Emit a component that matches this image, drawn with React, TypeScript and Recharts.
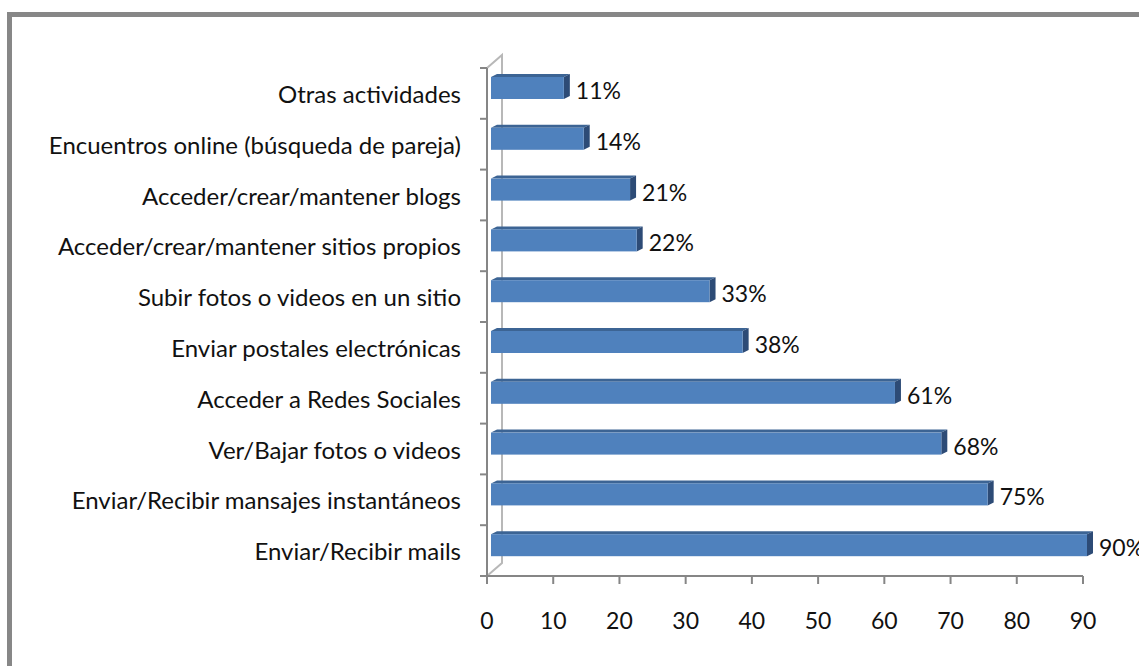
import React from "react";
import { BarChart, Bar, XAxis, YAxis, LabelList, ReferenceLine } from "recharts";

const categories = [
  "Otras actividades",
  "Encuentros online (búsqueda de pareja)",
  "Acceder/crear/mantener blogs",
  "Acceder/crear/mantener sitios propios",
  "Subir fotos o videos en un sitio",
  "Enviar postales electrónicas",
  "Acceder a Redes Sociales",
  "Ver/Bajar fotos o videos",
  "Enviar/Recibir mansajes instantáneos",
  "Enviar/Recibir mails",
];

const values = [11, 14, 21, 22, 33, 38, 61, 68, 75, 90];

const xTicks = [0, 10, 20, 30, 40, 50, 60, 70, 80, 90];

const data = categories.map((name, i) => ({ name, value: values[i] }));

const FONT = "Lato, 'Open Sans', sans-serif";
const AXIS = "#868686";
const FRONT = "#4F81BD";
const TOP = "#3C6494";
const SIDE = "#2D4B76";

// fake 3d bar: front face + top + right side
function Bar3D(props: any) {
  const { x, y, width, height } = props;
  const fx = x + 4;
  const fy = y - 5;
  const dx = 6;
  const dy = 3;
  return (
    <g>
      <polygon
        points={`${fx},${fy} ${fx + dx},${fy - dy} ${fx + width + dx},${fy - dy} ${fx + width},${fy}`}
        fill={TOP}
      />
      <polygon
        points={`${fx + width},${fy} ${fx + width + dx},${fy - dy} ${fx + width + dx},${fy + height - dy} ${fx + width},${fy + height}`}
        fill={SIDE}
      />
      <rect x={fx} y={fy} width={width} height={height} fill={FRONT} />
    </g>
  );
}

function ValueLabel(props: any) {
  const { x, y, width, height, value } = props;
  return (
    <text
      x={x + width + 16}
      y={y + height / 2 - 3}
      dominantBaseline="central"
      fontFamily={FONT}
      fontSize={23}
      fill="#111"
    >
      {value}%
    </text>
  );
}

function CatTick(props: any) {
  const { x, y, payload, index, visibleTicksCount } = props;
  const axisX = x + 26;
  const half = payload.offset ?? 25.4;
  return (
    <g>
      <text
        x={x}
        y={y}
        textAnchor="end"
        dominantBaseline="central"
        fontFamily={FONT}
        fontSize={24}
        fill="#111"
      >
        {payload.value}
      </text>
      <line x1={axisX - 7} x2={axisX} y1={y - half} y2={y - half} stroke={AXIS} strokeWidth={2} />
      {index === visibleTicksCount - 1 && (
        <line x1={axisX - 7} x2={axisX} y1={y + half} y2={y + half} stroke={AXIS} strokeWidth={2} />
      )}
    </g>
  );
}

function NumTick(props: any) {
  const { x, y, payload } = props;
  return (
    <text
      x={x}
      y={y + 36}
      textAnchor="middle"
      dominantBaseline="central"
      fontFamily={FONT}
      fontSize={23}
      fill="#111"
    >
      {payload.value}
    </text>
  );
}

function BackWall(props: any) {
  const { x1, y1, y2 } = props;
  const top = Math.min(y1, y2);
  const bot = Math.max(y1, y2);
  const bx = x1 + 15;
  return (
    <path
      d={`M${x1},${top} L${bx},${top - 13} L${bx},${bot - 13} L${x1},${bot}`}
      fill="none"
      stroke="#B8B8B8"
      strokeWidth={2}
    />
  );
}

export default function App() {
  return (
    <div
      style={{
        position: "fixed",
        left: 0,
        top: 0,
        width: 1139,
        height: 666,
        overflow: "hidden",
        background: "#fff",
      }}
    >
      <div
        style={{
          position: "absolute",
          left: 7,
          top: 12,
          width: 1300,
          height: 800,
          borderLeft: "5px solid #878787",
          borderTop: "5px solid #878787",
        }}
      />
      <div style={{ position: "absolute", left: 0, top: 0 }}>
        <BarChart
          width={1139}
          height={666}
          data={data}
          layout="vertical"
          margin={{ top: 68, right: 56, bottom: 40, left: 0 }}
          barSize={22}
        >
          <ReferenceLine x={0} shape={BackWall} zIndex={-10} />
          <XAxis
            type="number"
            domain={[0, 90]}
            ticks={xTicks}
            interval={0}
            height={50}
            tickSize={8}
            tickMargin={0}
            stroke={AXIS}
            strokeWidth={2}
            tick={<NumTick />}
          />
          <YAxis
            type="category"
            dataKey="name"
            width={487}
            interval={0}
            tickSize={7}
            tickMargin={19}
            tickLine={false}
            stroke={AXIS}
            strokeWidth={2}
            tick={<CatTick />}
          />
          <Bar dataKey="value" shape={<Bar3D />} isAnimationActive={false}>
            <LabelList dataKey="value" content={<ValueLabel />} />
          </Bar>
        </BarChart>
      </div>
    </div>
  );
}
